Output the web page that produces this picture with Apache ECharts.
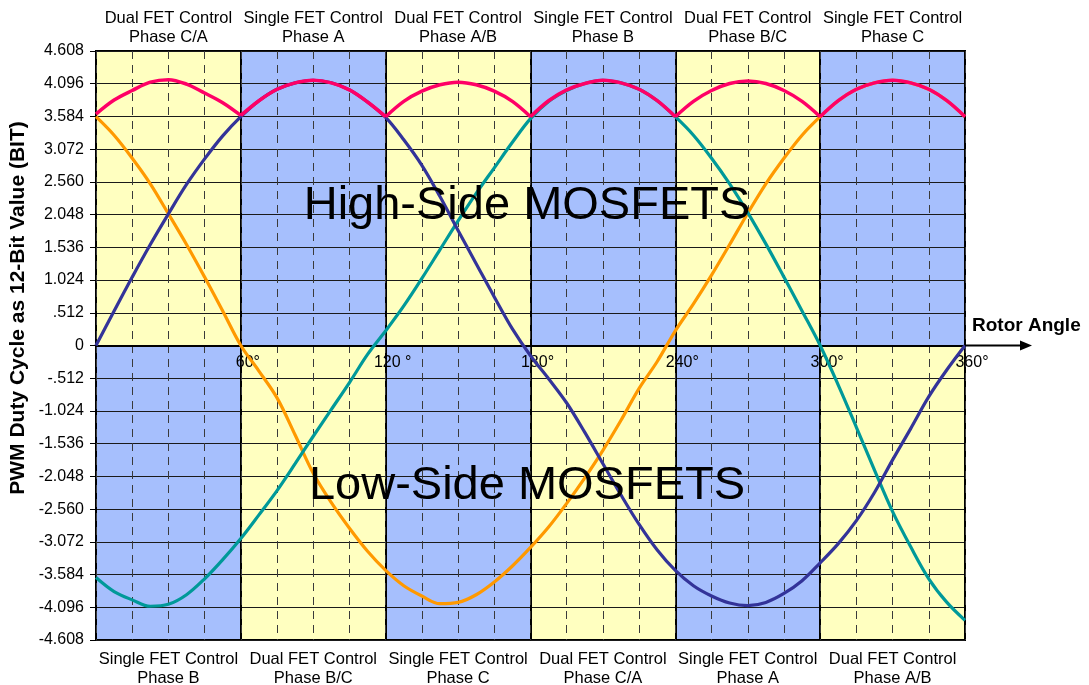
<!DOCTYPE html>
<html>
<head>
<meta charset="utf-8">
<script src="https://cdn.jsdelivr.net/npm/echarts@6/dist/echarts.min.js"></script>
<style>
  html, body { margin: 0; padding: 0; background: #ffffff; }
  #chart { width: 1089px; height: 685px; }
</style>
</head>
<body>
<div id="chart"></div>
<script>
// Rotor angle samples (degrees)
const angles = [0, 7.5, 15, 22.5, 30, 37.5, 45, 52.5, 60, 67.5, 75, 82.5, 90, 97.5, 105, 112.5, 120,
                127.5, 135, 142.5, 150, 157.5, 165, 172.5, 180, 187.5, 195, 202.5, 210, 217.5, 225, 232.5, 240,
                247.5, 255, 262.5, 270, 277.5, 285, 292.5, 300, 307.5, 315, 322.5, 330, 337.5, 345, 352.5, 360];

// PWM duty (12-bit value, in thousands) per phase
const phaseA = [0, 0.54, 1.07, 1.58, 2.06, 2.52, 2.92, 3.28, 3.58, 3.83, 4.01, 4.11, 4.15, 4.11, 4.00, 3.81, 3.57,
                3.22, 2.82, 2.33, 1.80, 1.28, 0.76, 0.26, -0.16, -0.52, -0.90, -1.36, -1.85, -2.34, -2.80, -3.20, -3.52,
                -3.76, -3.92, -4.03, -4.07, -4.02, -3.88, -3.68, -3.40, -3.10, -2.74, -2.30, -1.79, -1.30, -0.80, -0.38, 0];
const phaseB = [-3.63, -3.85, -3.98, -4.08, -4.05, -3.90, -3.65, -3.35, -3.02, -2.65, -2.27, -1.85, -1.42, -1.00, -0.58, -0.14, 0.23,
                0.62, 1.05, 1.50, 1.95, 2.38, 2.78, 3.18, 3.55, 3.82, 3.99, 4.10, 4.15, 4.11, 4.01, 3.83, 3.58,
                3.29, 2.93, 2.53, 2.08, 1.59, 1.07, 0.54, 0, -0.62, -1.28, -1.95, -2.60, -3.15, -3.65, -4.02, -4.30];
const phaseC = [3.58, 3.29, 2.93, 2.53, 2.06, 1.58, 1.07, 0.54, 0, -0.40, -0.82, -1.40, -2.00, -2.46, -2.86, -3.22, -3.52,
                -3.76, -3.92, -4.04, -4.02, -3.90, -3.70, -3.45, -3.16, -2.84, -2.47, -2.07, -1.64, -1.17, -0.67, -0.25, 0.23,
                0.65, 1.10, 1.58, 2.07, 2.53, 2.93, 3.29, 3.58, 3.83, 4.01, 4.11, 4.15, 4.11, 4.01, 3.83, 3.58];
// Largest magnitude of the three phases
const envelope = [3.62, 3.84, 3.99, 4.12, 4.16, 4.09, 3.95, 3.80, 3.60, 3.83, 4.01, 4.11, 4.15, 4.11, 4.00, 3.81, 3.58,
                  3.82, 3.98, 4.08, 4.12, 4.08, 3.98, 3.82, 3.58, 3.83, 4.00, 4.10, 4.15, 4.11, 4.01, 3.83, 3.58,
                  3.82, 3.99, 4.10, 4.14, 4.10, 3.99, 3.82, 3.58, 3.83, 4.01, 4.11, 4.15, 4.11, 4.01, 3.83, 3.58];

// Commutation sections
const sectionStarts = [0, 60, 120, 180, 240, 300];
const sectionWidth = 60;
const topLabels = [
  'Dual FET Control\nPhase C/A', 'Single FET Control\nPhase A', 'Dual FET Control\nPhase A/B',
  'Single FET Control\nPhase B', 'Dual FET Control\nPhase B/C', 'Single FET Control\nPhase C'
];
const bottomLabels = [
  'Single FET Control\nPhase B', 'Dual FET Control\nPhase B/C', 'Single FET Control\nPhase C',
  'Dual FET Control\nPhase C/A', 'Single FET Control\nPhase A', 'Dual FET Control\nPhase A/B'
];

// Axis ticks
const yStep = 0.512;
const yMax = 4.608;
const yTickLabels = ['-4.608', '-4.096', '-3.584', '-3.072', '-2.560', '-2.048', '-1.536', '-1.024', '-.512', '0',
                     '.512', '1.024', '1.536', '2.048', '2.560', '3.072', '3.584', '4.096', '4.608'];
const xTickLabels = ['', '60°', '120 °', '180°', '240°', '300°', '360°'];

const FONT = '"Liberation Sans", Arial, Helvetica, sans-serif';
const YELLOW = '#FFFFC0';
const BLUE = '#A6BFFD';

// Plot frame
const W = 1089, H = 685;
const GRID = { left: 96, right: 124, top: 51, bottom: 45 };
const plotHeight = H - GRID.top - GRID.bottom;
// zero sits halfway down the symmetric value range
const zeroOffset = -plotHeight / 2;

// Background bands: upper half / lower half of every section
const bands = [];
sectionStarts.forEach((s, i) => {
  bands.push([s, s + sectionWidth, 0, yMax, i % 2 === 0 ? 0 : 1]);
  bands.push([s, s + sectionWidth, -yMax, 0, i % 2 === 0 ? 1 : 0]);
});

const pairs = vals => angles.map((a, i) => [a, vals[i]]);

// Envelope broken at each section boundary so its corners stay sharp
const envelopeData = [];
angles.forEach((a, i) => {
  envelopeData.push([a, envelope[i]]);
  if (a % sectionWidth === 0 && i > 0 && i < angles.length - 1) {
    envelopeData.push([a, null]);
    envelopeData.push([a, envelope[i]]);
  }
});

const chart = echarts.init(document.getElementById('chart'), null, { renderer: 'canvas' });

const lineSeries = (name, data, color, width, z) => ({
  name, type: 'line', data, z,
  xAxisIndex: 0, yAxisIndex: 0,
  showSymbol: false, symbol: 'none', smooth: 0.35,
  connectNulls: false,
  lineStyle: { color, width },
  emphasis: { disabled: true },
  animation: false
});

chart.setOption({
  animation: false,
  backgroundColor: '#ffffff',
  textStyle: { fontFamily: FONT, color: '#000' },
  grid: {
    left: GRID.left, right: GRID.right, top: GRID.top, bottom: GRID.bottom,
    containLabel: false, outerBoundsMode: 'none',
    show: true, z: 2,
    borderColor: '#000', borderWidth: 2,
    backgroundColor: 'transparent'
  },
  xAxis: [
    {
      type: 'value', min: 0, max: 360, interval: 60, z: 2,
      position: 'bottom', offset: zeroOffset,
      name: 'Rotor Angle', nameLocation: 'end', nameGap: 7,
      nameTextStyle: { fontFamily: FONT, fontWeight: 'bold', fontSize: 19, color: '#000',
                       verticalAlign: 'bottom', padding: [0, 0, 10, 0] },
      axisLine: { show: true, onZero: false, lineStyle: { color: '#000', width: 2 } },
      axisTick: { show: false },
      axisLabel: {
        show: true, margin: 9, fontSize: 16, fontFamily: FONT, color: '#000',
        padding: [0, 0, 0, 14],
        formatter: v => xTickLabels[Math.round(v / 60)] || ''
      },
      splitLine: { show: true, lineStyle: { color: '#000', width: 2 } }
    },
    {
      type: 'value', min: 0, max: 360, interval: 15, z: 2,
      position: 'bottom',
      axisLine: { show: false, onZero: false },
      axisTick: { show: false },
      axisLabel: { show: false },
      splitLine: { show: true, lineStyle: { color: '#3a3a3a', width: 1, type: [8, 6] } }
    },
    {
      type: 'category', data: topLabels, position: 'top', z: 2,
      boundaryGap: true,
      axisLine: { show: false, onZero: false },
      axisTick: { show: false },
      splitLine: { show: false },
      axisLabel: { show: true, interval: 0, margin: 4, fontSize: 16.5, lineHeight: 19,
                   fontFamily: FONT, color: '#000', align: 'center' }
    },
    {
      type: 'category', data: bottomLabels, position: 'bottom', z: 2,
      boundaryGap: true,
      axisLine: { show: false, onZero: false },
      axisTick: { show: false },
      splitLine: { show: false },
      axisLabel: { show: true, interval: 0, margin: 10, fontSize: 16.5, lineHeight: 19,
                   fontFamily: FONT, color: '#000', align: 'center' }
    }
  ],
  yAxis: {
    type: 'value', min: -yMax, max: yMax, interval: yStep, z: 2,
    axisLine: { show: false, onZero: false },
    axisTick: { show: true, length: 6, lineStyle: { color: '#000', width: 1 } },
    axisLabel: {
      margin: 12, fontSize: 16, fontFamily: FONT, color: '#000',
      formatter: v => yTickLabels[Math.round(v / yStep) + 9]
    },
    splitLine: { show: true, lineStyle: { color: '#1a1a1a', width: 1 } }
  },
  series: [
    {
      name: 'sections', type: 'custom', coordinateSystem: 'cartesian2d',
      xAxisIndex: 0, yAxisIndex: 0, z: 1, silent: true,
      data: bands,
      renderItem: (params, api) => {
        const p0 = api.coord([api.value(0), api.value(3)]);
        const p1 = api.coord([api.value(1), api.value(2)]);
        return {
          type: 'rect',
          shape: { x: p0[0], y: p0[1], width: p1[0] - p0[0], height: p1[1] - p0[1] },
          style: { fill: api.value(4) === 0 ? YELLOW : BLUE, stroke: null }
        };
      }
    },
    lineSeries('Phase C', pairs(phaseC), '#FF9900', 3.2, 3),
    lineSeries('Phase B', pairs(phaseB), '#009999', 3.2, 3),
    lineSeries('Phase A', pairs(phaseA), '#333399', 3.2, 3),
    lineSeries('Peak', envelopeData, '#FF0066', 3.5, 4)
  ]
});

// Zero line continues past 360° into an arrow
const end = chart.convertToPixel({ xAxisIndex: 0, yAxisIndex: 0 }, [360, 0]);
chart.setOption({
  graphic: [
    {
      type: 'line', z: 5,
      shape: { x1: end[0], y1: end[1], x2: end[0] + 58, y2: end[1] },
      style: { stroke: '#000', lineWidth: 2 }
    },
    {
      type: 'polygon', z: 5,
      shape: { points: [[end[0] + 55, end[1] - 5], [end[0] + 67, end[1]], [end[0] + 55, end[1] + 5]] },
      style: { fill: '#000' }
    },
    {
      // value axis title, reading bottom to top
      type: 'text', z: 10, x: 18, y: 308, rotation: Math.PI / 2,
      style: { text: 'PWM Duty Cycle as 12-Bit Value (BIT)', font: 'bold 21px ' + FONT, fill: '#000',
               align: 'center', verticalAlign: 'middle' }
    },
    {
      type: 'text', z: 10, x: 527, y: 206,
      style: { text: 'High-Side MOSFETS', font: '47px ' + FONT, fill: '#000',
               align: 'center', verticalAlign: 'middle' }
    },
    {
      type: 'text', z: 10, x: 527, y: 486,
      style: { text: 'Low-Side MOSFETS', font: '47px ' + FONT, fill: '#000',
               align: 'center', verticalAlign: 'middle' }
    }
  ]
});
</script>
</body>
</html>
